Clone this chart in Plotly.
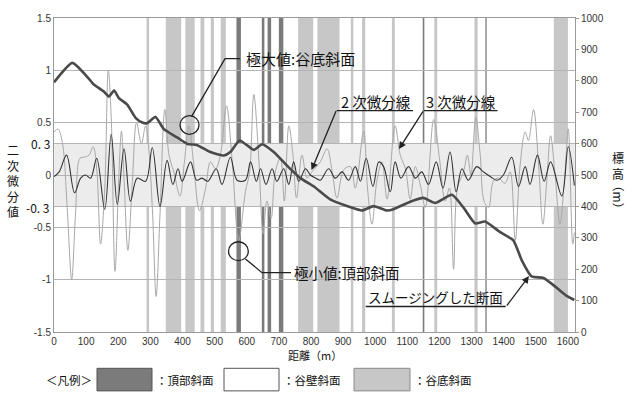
import plotly.graph_objects as go

# ---- data -----------------------------------------------------------------
# smoothed elevation profile (m) against distance (m)
elev_dist = [0, 57, 104, 122, 155, 171, 187, 202, 228, 254, 275, 290, 316, 342, 383, 415,
             446, 487, 529, 549, 578, 622, 648, 684, 730, 767, 808, 860, 912, 959, 995,
             1036, 1057, 1109, 1150, 1187, 1239, 1275, 1311, 1342, 1389, 1430, 1456, 1487,
             1524, 1565, 1596, 1620]
elev_m = [795, 857, 812, 790, 766, 750, 769, 745, 724, 682, 667, 665, 685, 646, 620, 599,
          595, 573, 562, 573, 610, 580, 598, 573, 525, 490, 464, 422, 401, 387, 401,
          387, 391, 415, 427, 411, 437, 396, 346, 352, 318, 292, 229, 177,
          172, 141, 115, 102]

# second derivative line
d2_dist = [0, 16, 39, 64, 83, 98, 114, 133, 158, 178, 197, 218, 238, 259, 285, 306, 330,
           352, 370, 386, 399, 425, 444, 461, 479, 505, 523, 549, 570, 596, 612, 630, 643,
           660, 679, 694, 715, 731, 746, 762, 783, 798, 815, 829, 855, 876, 897, 917, 938,
           954, 972, 993, 1011, 1026, 1047, 1062, 1080, 1104, 1125, 1145, 1166, 1190, 1211,
           1233, 1252, 1270, 1290, 1316, 1337, 1358, 1379, 1399, 1425, 1446, 1467, 1482,
           1505, 1526, 1546, 1581, 1601, 1620]
d2_val = [-0.015, 0.03, 0.19, -0.17, -0.03, 0.0, -0.03, 0.16, -0.33, 0.39, -0.28, 0.25, -0.25,
          -0.03, -0.06, 0.26, -0.30, 0.14, -0.09, 0.06, -0.06, 0.125, -0.05, -0.03, -0.06,
          0.06, -0.09, 0.17, -0.05, -0.05, 0.125, -0.06, 0.06, -0.09, 0.06, -0.06, 0.06,
          -0.09, 0.125, -0.06, 0.06, 0.0, -0.03, -0.05, 0.06, -0.03, 0.03, -0.05, 0.08,
          -0.06, 0.16, -0.11, 0.125, 0.08, -0.16, 0.125, -0.03, 0.08, -0.03, 0.03, -0.09,
          0.125, -0.125, 0.22, -0.16, 0.06, -0.05, 0.08, 0.03, -0.015, -0.05, 0.0, 0.17,
          -0.11, 0.08, -0.09, 0.19, -0.06, 0.125, -0.2, 0.27, -0.1]

# third derivative line
d3_dist = [0, 12, 26, 41, 55, 67, 81, 93, 109, 122, 133, 145, 158, 169, 178, 190, 202, 210,
           218, 230, 244, 257, 272, 285, 295, 307, 318, 330, 345, 358, 373, 392, 406, 420,
           433, 453, 472, 487, 503, 518, 537, 555, 575, 596, 609, 622, 637, 651, 663, 676,
           689, 705, 717, 731, 744, 755, 772, 788, 803, 829, 850, 866, 881, 902, 923, 938,
           964, 976, 990, 1005, 1021, 1037, 1062, 1078, 1094, 1109, 1125, 1140, 1156, 1182,
           1200, 1218, 1231, 1244, 1256, 1275, 1287, 1298, 1313, 1327, 1339, 1353, 1368,
           1384, 1404, 1420, 1436, 1451, 1467, 1477, 1493, 1508, 1522, 1534, 1546, 1560,
           1575, 1591, 1601, 1615, 1620]
d3_val = [0.41, 0.44, 0.31, -0.31, -1.0, -0.375, 0.16, 0.17, 0.19, 0.27, 0.06, -0.66, -0.125,
          1.0, 0.56, -0.92, 0.0, 0.42, -0.03, -0.72, -0.06, 0.5, 0.30, 0.47, 0.25, -0.375,
          -1.16, -0.375, 0.625, 0.19, 0.03, -0.2, 0.125, 0.47, 0.16, -0.34, -0.125, 0.125,
          0.06, 0.19, 0.66, 0.125, -0.625, -0.16, 0.03, 0.77, 0.19, -0.56, -0.25, -0.41,
          0.03, 0.16, -0.25, 0.47, 0.19, -0.22, 0.19, -0.03, 0.03, 0.125, 0.25, 0.03, -0.22,
          0.05, 0.08, -0.125, 0.42, -0.125, -0.47, -0.06, 0.125, -0.23, 0.47, 0.19, 0.06,
          -0.23, 0.08, -0.09, -0.31, 0.53, 0.16, -0.25, -0.125, -0.9, -0.125, 0.03, 0.19,
          0.0, 0.55, 0.19, -0.25, -0.31, -0.06, -0.03, -0.08, 0.03, -0.625, 0.09, 0.41,
          0.33, 0.625, 0.125, -0.47, -0.06, 0.375, 0.0, -0.47, 0.03, 0.44, -0.66, -0.55]

# slope classes along the profile: (start, end) distance in m
valley_bottom = [(288, 296), (348, 396), (409, 438), (456, 468), (488, 498), (519, 535),
                 (760, 807), (820, 889), (924, 932), (959, 969), (1052, 1061),
                 (1184, 1193), (1309, 1319), (1556, 1600)]
summit = [(568, 582), (647, 655), (665, 676), (700, 714), (1148, 1153), (1343, 1347)]

band_limit = 0.3
x_ticks = list(range(0, 1700, 100))
y_ticks = [-1.5, -1, -0.5, 0, 0.5, 1, 1.5]
elev_ticks = list(range(0, 1100, 100))

# ---- colours / fonts ---------------------------------------------------------
C_SUMMIT = "#7b7b7b"
C_VALLEY = "#c7c7c7"
C_BAND = "#ececec"
C_GRID = "#b4b4b4"
JP = "Noto Sans CJK JP"
NUM = "Liberation Sans, Arial"

# plot-area geometry (pixels) used to place the callouts
L, R, T, B = 54, 575, 12, 332


def px(x):
    return (x - L) / (R - L)


def py(y):
    return (B - y) / (B - T)


fig = go.Figure()

fig.add_trace(go.Scatter(x=d3_dist, y=d3_val, mode="lines",
                         line=dict(color="#a8a8a8", width=1, shape="spline", smoothing=1.0),
                         hoverinfo="skip"))
fig.add_trace(go.Scatter(x=d2_dist, y=d2_val, mode="lines",
                         line=dict(color="#333333", width=1.1, shape="spline", smoothing=1.0),
                         hoverinfo="skip"))
fig.add_trace(go.Scatter(x=elev_dist, y=elev_m, mode="lines", yaxis="y2",
                         line=dict(color="#4a4a4a", width=2.6, shape="spline", smoothing=0.5),
                         hoverinfo="skip"))

shapes = []
# +-0.3 band
shapes.append(dict(type="rect", xref="x", yref="y", x0=0, x1=1622,
                   y0=-band_limit, y1=band_limit, fillcolor=C_BAND, line_width=0,
                   layer="below"))
for a, b in valley_bottom:
    shapes.append(dict(type="rect", xref="x", yref="paper", x0=a, x1=b, y0=0, y1=1,
                       fillcolor=C_VALLEY, line_width=0, layer="below"))
for a, b in summit:
    shapes.append(dict(type="rect", xref="x", yref="paper", x0=a, x1=b, y0=0, y1=1,
                       fillcolor=C_SUMMIT, line_width=0, layer="below"))

LINE = dict(color="#222222", width=1.3)
# callout: local maximum
shapes.append(dict(type="circle", xref="paper", yref="paper",
                   x0=px(180), x1=px(199), y0=py(130.5), y1=py(111.5), line=LINE))
shapes.append(dict(type="path", xref="paper", yref="paper",
                   path=f"M {px(240)} {py(53.5)} L {px(225)} {py(53.5)} L {px(191.5)} {py(112.5)}",
                   line=LINE))
# callout: local minimum
shapes.append(dict(type="circle", xref="paper", yref="paper",
                   x0=px(228.5), x1=px(248.3), y0=py(259.3), y1=py(240), line=LINE))
shapes.append(dict(type="path", xref="paper", yref="paper",
                   path=f"M {px(245.5)} {py(257.5)} L {px(262)} {py(271.5)} L {px(291)} {py(271.5)}",
                   line=LINE))
# underlines of the line labels
shapes.append(dict(type="line", xref="paper", yref="paper", x0=px(336.7), x1=px(413),
                   y0=py(106.3), y1=py(106.3), line=LINE))
shapes.append(dict(type="line", xref="paper", yref="paper", x0=px(424), x1=px(497.5),
                   y0=py(106.3), y1=py(106.3), line=LINE))
shapes.append(dict(type="line", xref="paper", yref="paper", x0=px(365.7), x1=px(505.7),
                   y0=py(306), y1=py(306), line=LINE))

# legend boxes
LEG_Y0, LEG_Y1 = py(392), py(369)
for x0, x1, col, edge in [(97, 152, C_SUMMIT, "#555555"), (224, 279, "white", "#555555"),
                          (354, 410, C_VALLEY, "#8a8a8a")]:
    shapes.append(dict(type="rect", xref="paper", yref="paper", x0=px(x0), x1=px(x1),
                       y0=LEG_Y0, y1=LEG_Y1, fillcolor=col, line=dict(color=edge, width=1)))

ann = []


def text(x, y, s, size, anchor="left", font=JP, **kw):
    ann.append(dict(xref="paper", yref="paper", x=px(x), y=py(y), text=s, showarrow=False,
                    xanchor=anchor, yanchor="middle", font=dict(family=font, size=size,
                                                                  color="#111111"), **kw))


def arrow(tip_x, tip_y, tail_x, tail_y):
    ann.append(dict(xref="paper", yref="paper", x=px(tip_x), y=py(tip_y), text="",
                    showarrow=True, ax=tail_x - tip_x, ay=tail_y - tip_y,
                    arrowhead=2, arrowsize=1.1, arrowwidth=1.3, arrowcolor="#222222"))


text(244, 53, "極大値:谷底斜面", 15)
text(292, 271.5, "極小値:頂部斜面", 14.5)
text(339, 97.5, "2 次微分線", 14.5)
text(424, 97.5, "3 次微分線", 14.5)
text(366, 296.5, "スムージングした断面", 13.5)
arrow(311.5, 167, 336.7, 106.3)
arrow(399, 145.5, 424, 106.3)
arrow(529, 275, 505.7, 306)

# +-0.3 labels
text(51.5, 140, "0. 3", 12, anchor="right")
text(51.5, 205, "-0. 3", 12, anchor="right")

# axis titles
text(13, 178, "二<br>次<br>微<br>分<br>値", 12, anchor="center")
text(618, 162, "標<br>高", 12, anchor="center")
ann.append(dict(xref="paper", yref="paper", x=px(618), y=py(194), text="（m）",
                showarrow=False, textangle=90, xanchor="center", yanchor="middle",
                font=dict(family=JP, size=12, color="#111111")))
text(314.5, 355, "距離（m）", 11, anchor="center")

# legend texts
text(44, 381, "＜凡例＞", 11.5)
text(154, 381, "：頂部斜面", 11.5)
text(281, 381, "：谷壁斜面", 11.5)
text(412, 381, "：谷底斜面", 11.5)

fig.update_layout(
    width=633, height=394,
    margin=dict(l=L, r=633 - R, t=T, b=394 - B),
    plot_bgcolor="white", paper_bgcolor="white",
    showlegend=False,
    shapes=shapes, annotations=ann,
    xaxis=dict(range=[0, 1622], tickvals=x_ticks, showgrid=False, zeroline=False,
               showline=True, linecolor="#9a9a9a", mirror=True, ticks="",
               tickfont=dict(family=NUM, size=10, color="#333333")),
    yaxis=dict(range=[-1.5, 1.5], tickvals=y_ticks + [-band_limit, band_limit],
               ticktext=[str(v) for v in y_ticks] + ["", ""],
               showgrid=True, gridcolor=C_GRID, gridwidth=1, zeroline=False,
               showline=True, linecolor="#9a9a9a", ticks="",
               tickfont=dict(family=NUM, size=10, color="#333333")),
    yaxis2=dict(range=[0, 1000], tickvals=elev_ticks, overlaying="y", side="right",
                showgrid=False, zeroline=False, showline=True, linecolor="#9a9a9a",
                ticks="outside", ticklen=3, tickcolor="#9a9a9a",
                tickfont=dict(family=NUM, size=10, color="#333333")),
)

fig.write_html("out.html")
